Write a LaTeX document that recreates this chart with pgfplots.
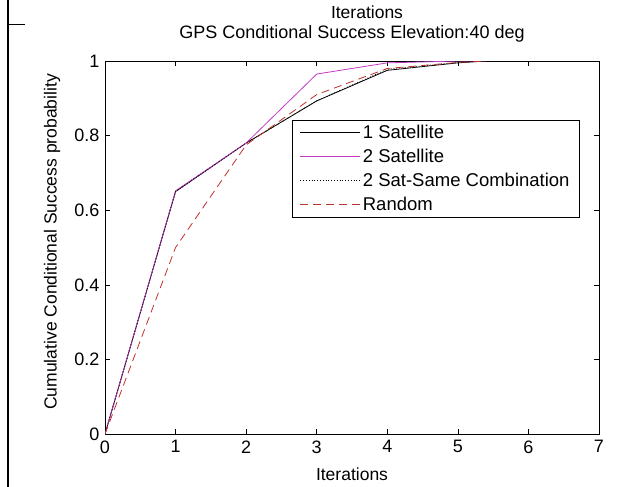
\documentclass[border=0pt]{standalone}
\usepackage{pgfplots}
\pgfplotsset{compat=1.18}
\usepackage{fontspec}
\setmainfont{Liberation Sans}
\definecolor{mag}{RGB}{195,60,200}
\definecolor{rnd}{RGB}{190,50,45}
\begin{document}
\begin{tikzpicture}
\useasboundingbox (0pt,0pt) rectangle (637pt,-487pt);
\fill[white] (0pt,0pt) rectangle (637pt,-487pt);
\draw[line width=2pt] (8pt,0pt) -- (8pt,-487pt);
\draw[line width=1pt] (8pt,-25pt) -- (25pt,-25pt);
\begin{axis}[
  at={(105pt,-434pt)}, anchor=south west,
  scale only axis, width=494pt, height=373pt,
  xmin=0, xmax=7, ymin=0, ymax=1,
  xtick={0,1,...,7}, ytick={0,0.2,0.4,0.6,0.8,1},
  yticklabels={0,{0.2\hspace{14pt}},{0.4\hspace{14pt}},{0.6\hspace{14pt}},{0.8\hspace{14pt}},1},
  tick align=inside, major tick length=5pt,
  tick style={black, line width=0.6pt},
  axis line style={line width=0.8pt},
  ticklabel style={font=\fontsize{18}{20}\selectfont},
  xticklabel style={yshift=-3pt},
  yticklabel style={xshift=-2pt},
  /pgf/number format/assume math mode=true,
  xlabel={Iterations}, ylabel={Cumulative Conditional Success probability},
  label style={font=\fontsize{17.5}{20}\selectfont},
  xlabel style={at={(axis description cs:0.5,0)}, anchor=center, yshift=-40pt},
  ylabel style={at={(axis description cs:-0.1073,0.515)}, anchor=center},
  title={GPS Conditional Success Elevation:40 deg},
  title style={font=\fontsize{18}{20}\selectfont, at={(axis description cs:0.5,1.056)}, anchor=center},
  legend style={at={(0.9615,0.842)}, anchor=north east, draw=black, line width=0.8pt,
    font=\fontsize{18.5}{20}\selectfont, inner xsep=8pt, inner ysep=3pt, row sep=5pt, cells={anchor=west}},
  legend image post style={line width=0.8pt},
  legend image code/.code={\path (0pt,0pt) -- (60pt,0pt); \draw[#1] (0pt,0pt) -- (55pt,0pt);},
]
\addplot[black, line width=0.8pt] coordinates {(0,0) (1,0.65) (2,0.78) (3,0.893) (4,0.975) (5,0.995) (5.4,1)};
\addplot[mag, line width=0.8pt] coordinates {(0,0) (1,0.652) (2,0.78) (3,0.965) (4,0.995) (5,1) (5.4,1)};
\addplot[black, dotted, line width=0.8pt] coordinates {(0,0) (1,0.65) (2,0.78) (3,0.893) (4,0.978) (5,0.996) (5.4,1)};
\addplot[rnd, dashed, dash pattern=on 8pt off 5pt, line width=0.8pt] coordinates {(0,0) (1,0.5) (2,0.775) (3,0.91) (4,0.98) (5,0.996) (5.4,1)};
\legend{1 Satellite, 2 Satellite, 2 Sat-Same Combination, Random}
\end{axis}
\node[font=\fontsize{17.5}{20}\selectfont] at (367pt,-12pt) {Iterations};
\end{tikzpicture}
\end{document}
